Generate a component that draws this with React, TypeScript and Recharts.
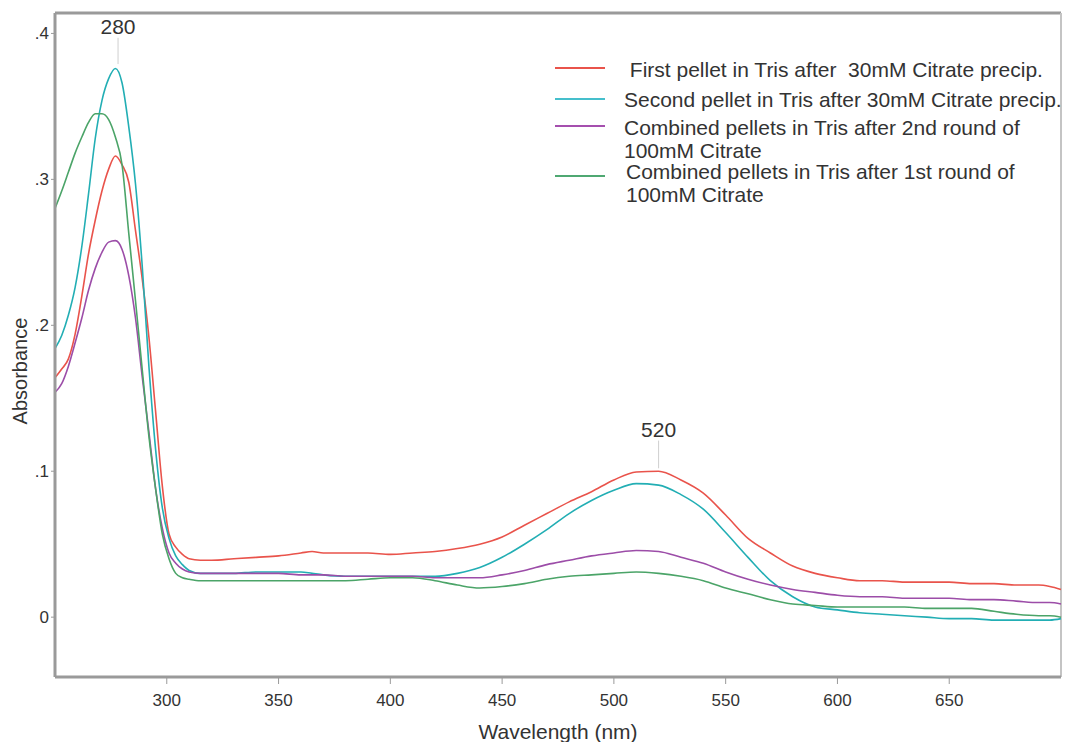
import React from 'react';
import { LineChart, Line, XAxis, YAxis, ReferenceLine } from 'recharts';

// wavelength grid (nm)
const wavelengths = [
  250, 253, 256, 259, 262, 265, 268, 271, 274, 277, 280, 283, 286, 289, 292, 295, 298, 301, 304, 307, 310,
  315, 320, 330, 340, 350, 360, 365, 370, 380, 390, 400, 410, 420, 430, 440, 450, 460, 470, 480, 490, 500,
  510, 520, 530, 540, 550, 560, 570, 580, 590, 600, 610, 620, 630, 640, 650, 660, 670, 680, 690, 695, 700,
];

const firstPellet = [
  0.164, 0.170, 0.177, 0.194, 0.220, 0.249, 0.272, 0.292, 0.307, 0.316, 0.310, 0.298, 0.265, 0.232, 0.192, 0.141, 0.090, 0.057, 0.048, 0.043, 0.040,
  0.039, 0.039, 0.040, 0.041, 0.042, 0.044, 0.045, 0.044, 0.044, 0.044, 0.043, 0.044, 0.045, 0.047, 0.050, 0.055, 0.063, 0.071, 0.079, 0.086, 0.094,
  0.0995, 0.100, 0.094, 0.085, 0.070, 0.054, 0.044, 0.035, 0.030, 0.027, 0.025, 0.025, 0.024, 0.024, 0.024, 0.023, 0.023, 0.022, 0.022, 0.021, 0.019,
];

const secondPellet = [
  0.184, 0.193, 0.207, 0.226, 0.254, 0.290, 0.328, 0.354, 0.369, 0.376, 0.366, 0.336, 0.297, 0.241, 0.172, 0.115, 0.075, 0.054, 0.042, 0.036, 0.032,
  0.030, 0.030, 0.030, 0.031, 0.031, 0.031, 0.030, 0.029, 0.028, 0.028, 0.028, 0.028, 0.028, 0.030, 0.034, 0.041, 0.050, 0.060, 0.071, 0.080, 0.087,
  0.0915, 0.0905, 0.084, 0.074, 0.058, 0.041, 0.025, 0.014, 0.007, 0.005, 0.003, 0.002, 0.001, 0.000, -0.001, -0.001, -0.002, -0.002, -0.002, -0.002, -0.001,
];

const combined2nd = [
  0.154, 0.160, 0.172, 0.188, 0.205, 0.224, 0.239, 0.250, 0.257, 0.258, 0.252, 0.234, 0.205, 0.165, 0.127, 0.088, 0.061, 0.044, 0.037, 0.033, 0.031,
  0.030, 0.030, 0.030, 0.030, 0.030, 0.029, 0.029, 0.029, 0.028, 0.028, 0.028, 0.028, 0.027, 0.027, 0.027, 0.029, 0.032, 0.036, 0.039, 0.042, 0.044,
  0.0457, 0.045, 0.041, 0.037, 0.031, 0.026, 0.022, 0.019, 0.017, 0.015, 0.014, 0.014, 0.013, 0.013, 0.013, 0.012, 0.012, 0.011, 0.010, 0.010, 0.009,
];

const combined1st = [
  0.280, 0.292, 0.305, 0.318, 0.329, 0.339, 0.345, 0.345, 0.341, 0.329, 0.310, 0.263, 0.217, 0.170, 0.124, 0.088, 0.057, 0.040, 0.030, 0.027, 0.026,
  0.025, 0.025, 0.025, 0.025, 0.025, 0.025, 0.025, 0.025, 0.025, 0.026, 0.027, 0.027, 0.025, 0.022, 0.020, 0.021, 0.023, 0.026, 0.028, 0.029, 0.030,
  0.031, 0.030, 0.028, 0.025, 0.020, 0.016, 0.012, 0.009, 0.008, 0.007, 0.007, 0.007, 0.007, 0.006, 0.006, 0.006, 0.004, 0.002, 0.001, 0.001, 0.000,
];

const xTicks = [300, 350, 400, 450, 500, 550, 600, 650];
const yTicks = [0, 0.1, 0.2, 0.3, 0.4];

const series = [
  { key: 'first', name: ' First pellet in Tris after  30mM Citrate precip.', color: '#E9534B', legendColor: '#E9534B', values: firstPellet },
  { key: 'second', name: 'Second pellet in Tris after 30mM Citrate precip.', color: '#22AEB4', legendColor: '#45BFCC', values: secondPellet },
  { key: 'comb2', name: 'Combined pellets in Tris after 2nd round of\n100mM Citrate', color: '#9C4DA8', legendColor: '#A54FAE', values: combined2nd },
  { key: 'comb1', name: 'Combined pellets in Tris after 1st round of\n100mM Citrate', color: '#4BA468', legendColor: '#4FA872', values: combined1st },
];

const data = wavelengths.map((wl, i) => {
  const row: Record<string, number> = { wl };
  series.forEach(s => { row[s.key] = s.values[i]; });
  return row;
});

const Y_MIN = -0.041;
const Y_MAX = 0.414;
const SANS = '"Liberation Sans", Arial, sans-serif';

// legend rows (px from the top of the page)
const legendRows = [
  { textTop: 58, lineTop: 67, textLeft: 624 },
  { textTop: 88, lineTop: 98, textLeft: 624 },
  { textTop: 116, lineTop: 125, textLeft: 624 },
  { textTop: 160, lineTop: 175, textLeft: 626 },
];

function ChartLegend() {
  return (
    <>
      {series.map((s, i) => (
        <React.Fragment key={s.key}>
          <div style={{ position: 'absolute', left: 555, top: legendRows[i].lineTop, width: 50, height: 2, background: s.legendColor }} />
          <div
            style={{
              position: 'absolute', left: legendRows[i].textLeft, top: legendRows[i].textTop,
              fontFamily: SANS, fontSize: 21, lineHeight: '23px', color: '#333', whiteSpace: 'pre',
            }}
          >
            {s.name}
          </div>
        </React.Fragment>
      ))}
    </>
  );
}

function YLabel({ viewBox }: any) {
  const x = viewBox.x + 27;
  const y = viewBox.y + viewBox.height / 2 + 26;
  return (
    <text x={x} y={y} transform={`rotate(-90, ${x}, ${y})`} textAnchor="middle" fill="#333" fontSize={20} fontFamily={SANS}>
      Absorbance
    </text>
  );
}

function App() {
  return (
    <div style={{ position: 'absolute', left: 0, top: 0, width: 1071, height: 742, background: '#fff' }}>
      <LineChart width={1071} height={742} data={data} margin={{ top: 13, right: 10, left: 0, bottom: 0 }}>
        <XAxis
          type="number"
          dataKey="wl"
          domain={[250, 700]}
          ticks={xTicks}
          height={65}
          axisLine={{ stroke: '#9a9a9a', strokeWidth: 3 }}
          tickLine={{ stroke: '#9a9a9a' }}
          tickSize={7}
          tickMargin={10}
          tick={{ fill: '#333', fontSize: 17, fontFamily: SANS }}
          label={{ value: 'Wavelength (nm)', position: 'insideBottom', offset: 3, fill: '#333', fontSize: 21, fontFamily: SANS }}
        />
        <YAxis
          type="number"
          domain={[Y_MIN, Y_MAX]}
          allowDataOverflow
          ticks={yTicks}
          width={55}
          axisLine={{ stroke: '#9a9a9a', strokeWidth: 3 }}
          tickLine={{ stroke: '#9a9a9a' }}
          tickSize={4}
          tickFormatter={(v: number) => (v === 0 ? '0' : '.' + Math.round(v * 10))}
          tick={{ fill: '#333', fontSize: 17, fontFamily: SANS }}
          label={<YLabel />}
        />
        <ReferenceLine y={Y_MAX} stroke="#9a9a9a" strokeWidth={3} />
        <ReferenceLine x={700} stroke="#c4c4c4" strokeWidth={2} />
        <ReferenceLine
          segment={[{ x: 278.2, y: 0.379 }, { x: 278.2, y: 0.397 }]}
          stroke="#cfcfcf"
          label={{ value: '280', position: 'top', fill: '#333', fontSize: 21, offset: 4, fontFamily: SANS }}
        />
        <ReferenceLine
          segment={[{ x: 520, y: 0.102 }, { x: 520, y: 0.121 }]}
          stroke="#cfcfcf"
          label={{ value: '520', position: 'top', fill: '#333', fontSize: 21, offset: 4, fontFamily: SANS }}
        />
        {series.map(s => (
          <Line
            key={s.key}
            type="monotone"
            dataKey={s.key}
            name={s.name}
            stroke={s.color}
            strokeWidth={1.6}
            dot={false}
            activeDot={false}
            isAnimationActive={false}
          />
        ))}
      </LineChart>
      <ChartLegend />
    </div>
  );
}

export default App;
